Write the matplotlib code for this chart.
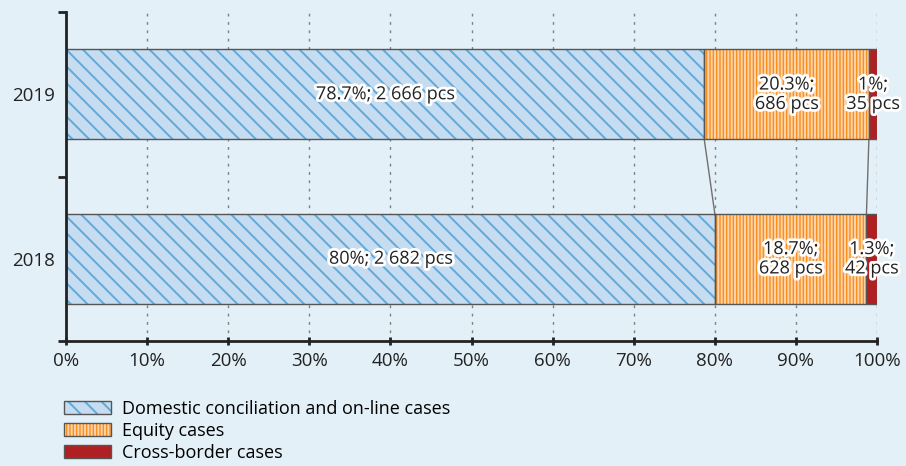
import matplotlib
matplotlib.use("Agg")
import matplotlib.pyplot as plt
import matplotlib.patheffects as pe
from matplotlib.patches import Patch
import numpy as np

# data (bottom to top)
years = ["2018", "2019"]
domestic_pct = [80.0, 78.7]
equity_pct = [18.7, 20.3]
cross_pct = [1.3, 1.0]
domestic_pcs = [2682, 2666]
equity_pcs = [628, 686]
cross_pcs = [42, 35]
domestic_lbl = ["80%", "78.7%"]
equity_lbl = ["18.7%", "20.3%"]
cross_lbl = ["1.3%", "1%"]
series_names = ["Domestic conciliation and on-line cases", "Equity cases", "Cross-border cases"]

bg = "#e3f0f8"
edge = "#555555"
c_dom, h_dom = "#c6dcf0", "#62a9d9"
c_eq, h_eq = "#f7901e", "#ffd3a8"
c_cr = "#b02023"

plt.rcParams["font.family"] = ["Open Sans", "DejaVu Sans"]
plt.rcParams["hatch.linewidth"] = 1.4

fig = plt.figure(figsize=(9.06, 4.66), dpi=100, facecolor=bg)
ax = fig.add_axes([66 / 906, 1 - 341 / 466, (877 - 66) / 906, (341 - 12) / 466])
ax.set_facecolor(bg)

ypos = np.arange(len(years)) + 0.5
h = 0.55
dom = np.array(domestic_pct)
eq = np.array(equity_pct)
cr = np.array(cross_pct)

# fills
ax.barh(ypos, dom, height=h, color=c_dom, linewidth=0, zorder=2)
ax.barh(ypos, eq, left=dom, height=h, color=c_eq, linewidth=0, zorder=2)
ax.barh(ypos, cr, left=dom + eq, height=h, color=c_cr, linewidth=0, zorder=2)
# hatches
ax.barh(ypos, dom, height=h, color="none", edgecolor=h_dom, linewidth=0, hatch="\\\\", zorder=3)
ax.barh(ypos, eq, left=dom, height=h, color="none", edgecolor=h_eq, linewidth=0, hatch="|||||", zorder=3)
# outlines
ax.barh(ypos, dom, height=h, color="none", edgecolor=edge, linewidth=1.0, zorder=4)
ax.barh(ypos, eq, left=dom, height=h, color="none", edgecolor=edge, linewidth=1.0, zorder=4)
ax.barh(ypos, cr, left=dom + eq, height=h, color="none", edgecolor=edge, linewidth=1.0, zorder=4)

# connector lines between bars
ax.plot([dom[1], dom[0]], [ypos[1] - h / 2, ypos[0] + h / 2], color="#707070", lw=1.0, zorder=2)
ax.plot([dom[1] + eq[1], dom[0] + eq[0]], [ypos[1] - h / 2, ypos[0] + h / 2], color="#707070", lw=1.0, zorder=2)

stroke = [pe.withStroke(linewidth=4, foreground="white")]
tkw = dict(ha="center", va="center", fontsize=13, color="#222222", path_effects=stroke, zorder=6)
for i in range(len(years)):
    ax.text(dom[i] / 2, ypos[i], f"{domestic_lbl[i]}; {domestic_pcs[i]:,} pcs".replace(",", " "), **tkw)
    ax.text(dom[i] + eq[i] / 2, ypos[i], f"{equity_lbl[i]};\n{equity_pcs[i]} pcs", linespacing=1.1, **tkw)
    ax.text(dom[i] + eq[i] + cr[i] / 2, ypos[i], f"{cross_lbl[i]};\n{cross_pcs[i]} pcs", linespacing=1.1, **tkw)

ax.set_xlim(0, 100)
ax.set_ylim(0, 2)
ax.set_xticks(np.arange(0, 101, 10))
ax.set_xticklabels([f"{v}%" for v in range(0, 101, 10)])
ax.set_yticks([0, 1, 2], minor=False)
ax.set_yticklabels(["", "", ""])
ax.set_yticks(ypos, minor=True)
ax.set_yticklabels(years, minor=True)
ax.tick_params(axis="y", which="minor", length=0, pad=8, labelsize=13.5, labelcolor="#222222")
ax.tick_params(axis="y", which="major", length=6, width=2, direction="out", color="#222222")
ax.tick_params(axis="x", length=6, width=2, direction="inout", pad=5, labelsize=13.5, labelcolor="#222222", color="#222222")
for s in ["top", "right"]:
    ax.spines[s].set_visible(False)
for s in ["left", "bottom"]:
    ax.spines[s].set_linewidth(2)
    ax.spines[s].set_color("#222222")
    ax.spines[s].set_zorder(7)
ax.grid(axis="x", linestyle=(0, (2, 4)), color="#808080", lw=1.0, zorder=0)

handles = [
    (Patch(facecolor=c_dom, edgecolor=h_dom, lw=0, hatch="\\\\"), Patch(facecolor="none", edgecolor=edge)),
    (Patch(facecolor=c_eq, edgecolor=h_eq, lw=0, hatch="|||||"), Patch(facecolor="none", edgecolor=edge)),
    Patch(facecolor=c_cr, edgecolor=edge),
]
fig.legend(handles, series_names, loc="upper left", bbox_to_anchor=(64 / 906, 1 - 400 / 466),
           frameon=False, fontsize=13, handlelength=2.6, handleheight=0.75,
           labelspacing=0.22, handletextpad=0.6, borderaxespad=0, borderpad=0)

fig.savefig("out.png", dpi=100, facecolor=bg)
